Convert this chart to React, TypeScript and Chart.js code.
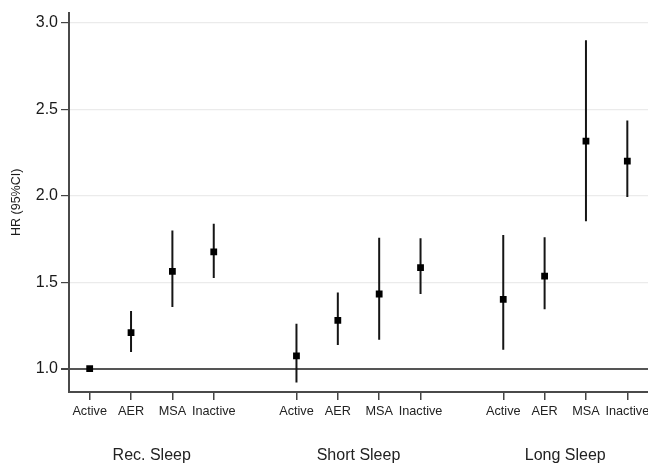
import React, { useEffect, useRef } from "react";
import { Chart, registerables } from "chart.js";

Chart.register(...registerables);

// Category slots (gap of one empty slot between groups)
const xPositions = [0, 1, 2, 3, 5, 6, 7, 8, 10, 11, 12, 13];
const categoryLabels = [
  "Active", "AER", "MSA", "Inactive",
  "Active", "AER", "MSA", "Inactive",
  "Active", "AER", "MSA", "Inactive",
];
const groupPositions = [1.5, 6.5, 11.5];
const groupLabels = ["Rec. Sleep", "Short Sleep", "Long Sleep"];

const hr = [1.0, 1.208, 1.563, 1.676, 1.074, 1.279, 1.432, 1.585, 1.401, 1.536, 2.317, 2.201];
const ciLow = [null, 1.096, 1.357, 1.525, 0.92, 1.137, 1.168, 1.432, 1.11, 1.344, 1.853, 1.993];
const ciHigh = [null, 1.334, 1.8, 1.838, 1.26, 1.44, 1.757, 1.754, 1.773, 1.76, 2.9, 2.436];

const yTicks = [1.0, 1.5, 2.0, 2.5, 3.0];

const FONT = "'Liberation Sans', Arial, sans-serif";

export default function App() {
  const ref = useRef<HTMLCanvasElement | null>(null);

  useEffect(() => {
    if (!ref.current) return;
    const pointData = xPositions.map((x, i) => ({ x, y: hr[i] }));
    const ciData: { x: number; y: number | null }[] = [];
    xPositions.forEach((x, i) => {
      if (ciLow[i] == null || ciHigh[i] == null) return;
      ciData.push({ x, y: ciLow[i] as number });
      ciData.push({ x, y: ciHigh[i] as number });
      ciData.push({ x, y: null });
    });

    const chart = new Chart(ref.current, {
      type: "scatter",
      data: {
        datasets: [
          {
            label: "HR",
            data: pointData,
            pointStyle: "rect",
            pointRadius: 4.8,
            backgroundColor: "#000",
            borderColor: "#000",
            borderWidth: 0,
            order: 0,
          },
          {
            label: "95% CI",
            data: ciData as any,
            showLine: true,
            spanGaps: false,
            pointRadius: 0,
            borderColor: "#151515",
            borderWidth: 2,
            order: 1,
          },
        ],
      },
      options: {
        responsive: false,
        animation: false,
        layout: { autoPadding: false, padding: { top: 10, left: 0, right: 0, bottom: 0 } },
        plugins: {
          legend: { display: false },
          tooltip: { enabled: false },
        },
        scales: {
          x: {
            type: "linear",
            position: "bottom",
            min: -0.5,
            max: 13.5,
            afterBuildTicks: (scale: any) => {
              scale.ticks = xPositions.map((v) => ({ value: v }));
            },
            afterFit: (scale: any) => {
              scale.height = 36;
              scale.paddingLeft = 0;
              scale.paddingRight = 0;
            },
            ticks: {
              autoSkip: false,
              maxRotation: 0,
              padding: 4,
              color: "#222",
              font: { family: FONT, size: 12.7 },
              callback: (value: any) => {
                const idx = xPositions.indexOf(Number(value));
                return idx >= 0 ? categoryLabels[idx] : "";
              },
            },
            grid: {
              drawOnChartArea: false,
              drawTicks: true,
              tickLength: 8,
              tickColor: "#444",
              lineWidth: 1.5,
            },
            border: { display: true, color: "#4a4a4a", width: 2 },
          },
          x2: {
            type: "linear",
            position: "bottom",
            min: -0.5,
            max: 13.5,
            afterBuildTicks: (scale: any) => {
              scale.ticks = groupPositions.map((v) => ({ value: v }));
            },
            afterFit: (scale: any) => {
              scale.height = 36;
              scale.paddingLeft = 0;
              scale.paddingRight = 0;
            },
            ticks: {
              autoSkip: false,
              maxRotation: 0,
              padding: 10,
              color: "#222",
              font: { family: FONT, size: 16 },
              callback: (value: any) => {
                const idx = groupPositions.indexOf(Number(value));
                return idx >= 0 ? groupLabels[idx] : "";
              },
            },
            grid: { display: false },
            border: { display: false },
          },
          y: {
            type: "linear",
            min: 0.865,
            max: 3.06,
            afterBuildTicks: (scale: any) => {
              scale.ticks = yTicks.map((v) => ({ value: v }));
            },
            afterFit: (scale: any) => {
              scale.width = 69;
            },
            ticks: {
              padding: 3,
              color: "#1a1a1a",
              font: { family: FONT, size: 16 },
              callback: (value: any) => Number(value).toFixed(1),
            },
            grid: {
              drawTicks: true,
              tickLength: 8,
              tickColor: "#444",
              color: (ctx: any) => (ctx.tick && ctx.tick.value === 1 ? "#555" : "#ebebeb"),
              lineWidth: (ctx: any) => (ctx.tick && ctx.tick.value === 1 ? 2 : 1.2),
            },
            border: { display: true, color: "#4a4a4a", width: 2 },
            title: {
              display: true,
              text: "HR (95%CI)",
              color: "#1a1a1a",
              font: { family: FONT, size: 12.5 },
              padding: { top: 9, bottom: 0 },
            },
          },
        },
      },
    } as any);

    return () => chart.destroy();
  }, []);

  return (
    <div style={{ position: "absolute", left: 0, top: 0, width: 648, height: 464, background: "#fff" }}>
      <canvas ref={ref} width={648} height={464} style={{ display: "block" }} />
    </div>
  );
}
